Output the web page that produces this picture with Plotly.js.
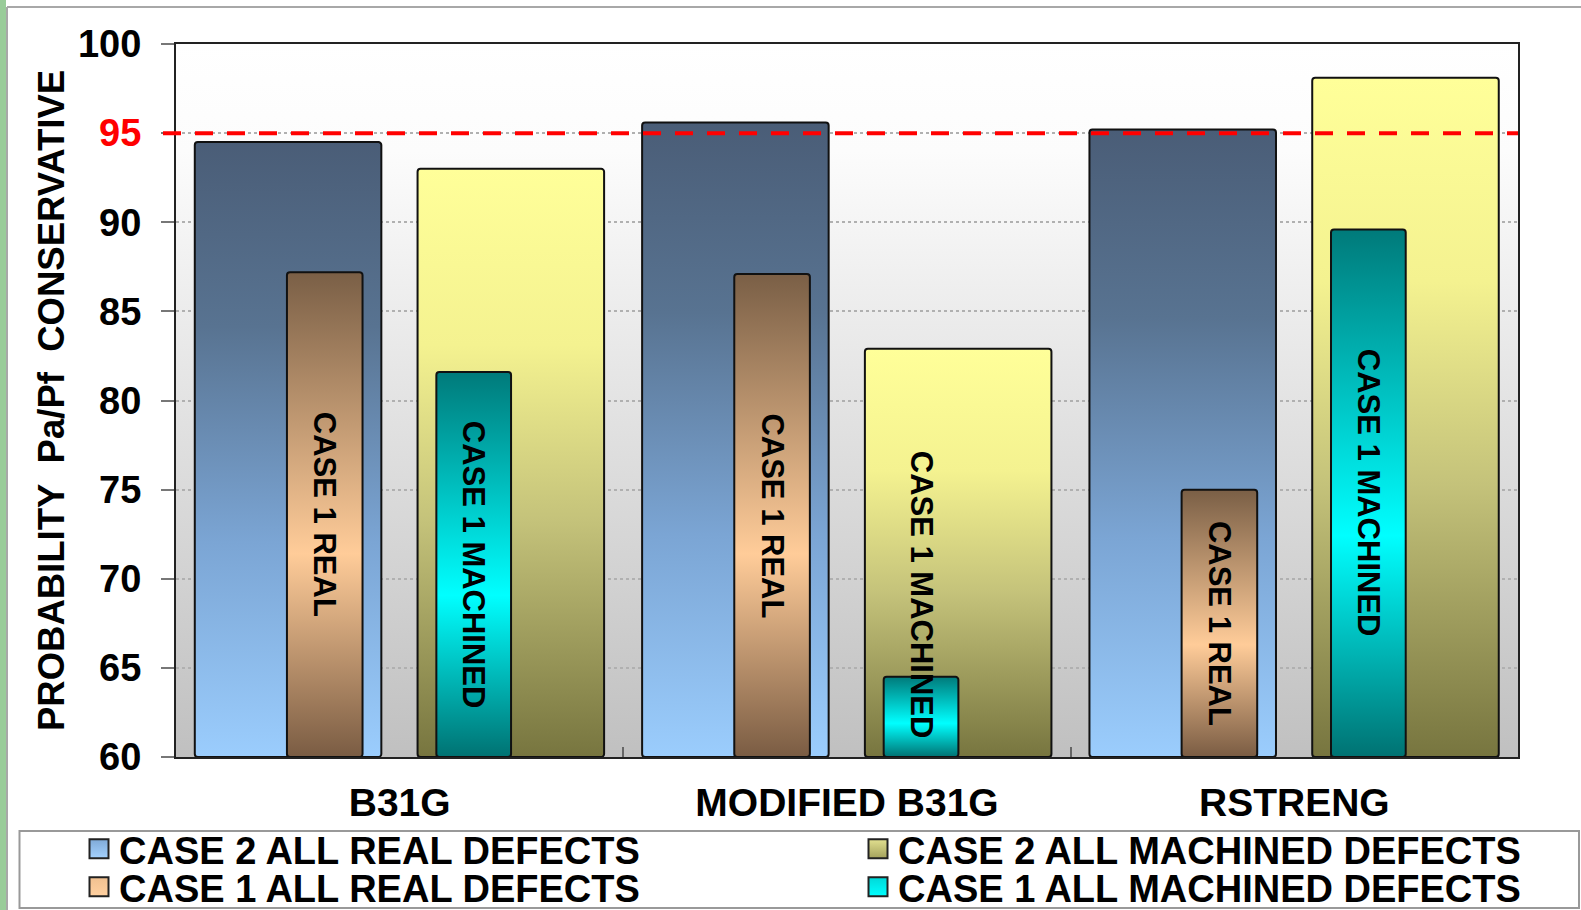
<!DOCTYPE html>
<html>
<head>
<meta charset="utf-8">
<script src="https://cdn.plot.ly/plotly-3.0.1.min.js"></script>
<style>
  html, body { margin: 0; padding: 0; background: #ffffff; }
  #chart { width: 1581px; height: 910px; }
</style>
</head>
<body>
<div id="chart"></div>
<script>
// Assessment methods along the x axis
const categories = ['B31G', 'MODIFIED B31G', 'RSTRENG'];

// Probability (%) that Pa/Pf is conservative, per method
const case2RealDefects     = [94.5, 95.6, 95.2];
const case2MachinedDefects = [93.0, 82.9, 98.1];
const case1RealDefects     = [87.2, 87.1, 75.0];
const case1MachinedDefects = [81.6, 64.5, 89.6];

const seriesNames = [
  'CASE 2 ALL REAL DEFECTS',
  'CASE 2 ALL MACHINED DEFECTS',
  'CASE 1 ALL REAL DEFECTS',
  'CASE 1 ALL MACHINED DEFECTS'
];
const barLabels = ['CASE 1 REAL', 'CASE 1 MACHINED'];

const yTickValues = [60, 65, 70, 75, 80, 85, 90, 95, 100];
const axisFloor = 60;
const axisCeiling = 100;
const targetLevel = 95;

// ---- page geometry (pixels) ----
const W = 1581, H = 910;
const M = { l: 176, r: 63, t: 44, b: 153, autoexpand: false };
const PW = W - M.l - M.r, PH = H - M.t - M.b;
const px = x => (x - M.l) / PW;      // page x -> paper x
const py = y => (H - M.b - y) / PH;  // page y -> paper y

const FONT = 'Liberation Sans, Arial, Helvetica, sans-serif';

// bar slot within each category: [offset, width] in category units
const slots = [
  [-0.458, 0.417],  // case 2 real
  [ 0.040, 0.417],  // case 2 machined
  [-0.252, 0.169],  // case 1 real
  [ 0.082, 0.167]   // case 1 machined
];
const seriesValues = [case2RealDefects, case2MachinedDefects, case1RealDefects, case1MachinedDefects];
const legendIds = ['legend', 'legend2', 'legend3', 'legend4'];

// bars rise from the bottom of the value axis
const traces = seriesValues.map((vals, i) => ({
  type: 'bar',
  name: seriesNames[i],
  x: categories,
  y: vals.map(v => v - axisFloor),
  base: axisFloor,
  customdata: vals,
  hovertemplate: '%{x}: %{customdata}<extra>' + seriesNames[i] + '</extra>',
  offset: slots[i][0],
  width: slots[i][1],
  legend: legendIds[i],
  marker: {
    color: ['#6f8fb5', '#c8c67c', '#d9a97d', '#00c8c8'][i],
    line: { color: '#111111', width: 2 },
    cornerradius: 3
  }
}));

// vertical labels written inside the case 1 bars; a label longer than its
// bar is lifted so that it still ends just above the axis
const annotations = [];
const labelHalfSpans = [6.2, 9.1]; // half of each label's length, in y units
[2, 3].forEach((s, k) => {
  seriesValues[s].forEach((v, ci) => {
    const mid = (axisFloor + v) / 2;
    annotations.push({
      x: ci + slots[s][0] + slots[s][1] / 2,
      y: Math.max(mid, axisFloor + labelHalfSpans[k]),
      xref: 'x', yref: 'y',
      text: barLabels[k],
      textangle: 90,
      showarrow: false,
      font: { family: FONT, size: 31, color: '#000000', weight: 700 }
    });
  });
});

// soft vertical fade behind the bars
const bgSvg = '<svg xmlns="http://www.w3.org/2000/svg" width="100" height="100" preserveAspectRatio="none">' +
  '<defs><linearGradient id="g" x1="0" y1="0" x2="0" y2="1">' +
  '<stop offset="0" stop-color="#ffffff"/><stop offset="0.15" stop-color="#fcfcfc"/><stop offset="1" stop-color="#c0c0c0"/>' +
  '</linearGradient></defs><rect width="100" height="100" fill="url(#g)"/></svg>';

const tickText = yTickValues.map(v => v === targetLevel
  ? '<span style="color:#ff0000">' + v + '</span>' : String(v));

// two rows by two columns of legend keys
const legendSpots = [[79, 849], [858, 849], [79, 887], [858, 887]];
const legendLayouts = {};
legendIds.forEach((id, i) => {
  legendLayouts[id] = {
    x: px(legendSpots[i][0]), y: py(legendSpots[i][1]),
    xanchor: 'left', yanchor: 'middle',
    orientation: 'h',
    bgcolor: 'rgba(0,0,0,0)',
    borderwidth: 0,
    font: { family: FONT, size: 38, color: '#000000', weight: 700 },
    itemclick: false,
    itemdoubleclick: false
  };
});

const layout = Object.assign({
  width: W, height: H,
  margin: M,
  paper_bgcolor: '#ffffff',
  plot_bgcolor: 'rgba(0,0,0,0)',
  barmode: 'overlay',
  showlegend: true,
  font: { family: FONT, color: '#000000' },
  xaxis: {
    type: 'category',
    range: [-0.5, 2.5],
    showgrid: false,
    showline: true, mirror: true, linecolor: '#222222', linewidth: 2,
    ticks: 'inside', tickson: 'boundaries', ticklen: 10, tickwidth: 2, tickcolor: '#666666',
    ticklabelstandoff: 10,
    tickfont: { family: FONT, size: 39, color: '#000000', weight: 700 },
    fixedrange: true
  },
  yaxis: {
    range: [axisFloor, axisCeiling],
    tickvals: yTickValues,
    ticktext: tickText,
    showgrid: true, gridcolor: '#b0b0b0', gridwidth: 1.5, griddash: 'dot',
    zeroline: false,
    showline: true, mirror: true, linecolor: '#222222', linewidth: 2,
    ticks: 'outside', ticklen: 13, tickwidth: 2, tickcolor: '#777777',
    ticklabelstandoff: 12,
    tickfont: { family: FONT, size: 38, color: '#000000', weight: 700 },
    title: {
      text: 'PROBABILITY\u00a0\u00a0Pa/Pf\u00a0\u00a0CONSERVATIVE',
      font: { family: FONT, size: 36.5, color: '#000000', weight: 700 },
      standoff: 2
    },
    fixedrange: true
  },
  images: [{
    source: 'data:image/svg+xml;charset=utf-8,' + encodeURIComponent(bgSvg),
    xref: 'paper', yref: 'paper', x: 0, y: 1, sizex: 1, sizey: 1,
    xanchor: 'left', yanchor: 'top', sizing: 'stretch', layer: 'below'
  }],
  shapes: [
    // target level
    { type: 'line', xref: 'paper', yref: 'y', x0: px(163), x1: 1, y0: targetLevel, y1: targetLevel,
      line: { color: '#ff0000', width: 4, dash: '18px,14px' }, layer: 'above' },
    // legend frame
    { type: 'rect', xref: 'paper', yref: 'paper', x0: px(19.5), x1: px(1579), y0: py(831), y1: py(908),
      line: { color: '#999999', width: 2 }, fillcolor: 'rgba(0,0,0,0)', layer: 'below' },
    // page frame and side strip
    { type: 'rect', xref: 'paper', yref: 'paper', x0: px(0), x1: px(6), y0: py(910), y1: py(0),
      line: { width: 0 }, fillcolor: '#99cc99', layer: 'below' },
    { type: 'line', xref: 'paper', yref: 'paper', x0: px(7), x1: px(7), y0: py(910), y1: py(7),
      line: { color: '#a8a8a8', width: 2 }, layer: 'below' },
    { type: 'line', xref: 'paper', yref: 'paper', x0: px(7), x1: px(1581), y0: py(7), y1: py(7),
      line: { color: '#a8a8a8', width: 2 }, layer: 'below' }
  ],
  annotations: annotations
}, legendLayouts);

// gradient fills for bars and legend keys
const barGradients = [
  [[0, '#4a5d77'], [0.3, '#587391'], [0.65, '#7ba5d4'], [1, '#9bcdfd']],
  [[0, '#ffff99'], [0.3, '#f4f290'], [0.6, '#c4c27a'], [1, '#77753f']],
  [[0, '#7a5f46'], [0.58, '#ffcc99'], [1, '#7a5c43']],
  [[0, '#007a7a'], [0.58, '#00ffff'], [1, '#007272']]
];
const keyGradients = [
  [[0, '#7fa9d6'], [1, '#a4d2ff']],
  [[0, '#e2e090'], [1, '#a4a25c']],
  [[0, '#f0c090'], [1, '#ffd0a0']],
  [[0, '#00d8d8'], [1, '#00ffff']]
];

function addGradient(defs, id, stops) {
  if (defs.querySelector('#' + id)) return;
  const NS = 'http://www.w3.org/2000/svg';
  const g = document.createElementNS(NS, 'linearGradient');
  g.setAttribute('id', id);
  g.setAttribute('x1', '0'); g.setAttribute('y1', '0');
  g.setAttribute('x2', '0'); g.setAttribute('y2', '1');
  stops.forEach(([o, c]) => {
    const s = document.createElementNS(NS, 'stop');
    s.setAttribute('offset', o);
    s.setAttribute('stop-color', c);
    g.appendChild(s);
  });
  defs.appendChild(g);
}

function paintGradients(gd) {
  const svg = gd.querySelector('svg.main-svg');
  if (!svg) return;
  let defs = svg.querySelector('defs');
  if (!defs) { defs = document.createElementNS('http://www.w3.org/2000/svg', 'defs'); svg.insertBefore(defs, svg.firstChild); }
  barGradients.forEach((st, i) => addGradient(defs, 'barfill' + i, st));
  keyGradients.forEach((st, i) => addGradient(defs, 'keyfill' + i, st));

  gd.querySelectorAll('.barlayer .trace').forEach((tr, i) => {
    tr.querySelectorAll('.point path').forEach(p => { p.style.fill = 'url(#barfill' + i + ')'; });
  });

  // one key per legend, in trace order
  legendIds.forEach((id, i) => {
    gd.querySelectorAll('g.' + id + ' path.legendbar, g.' + id + ' .legendpoints path').forEach(p => {
      p.setAttribute('d', 'M9.5,9.5H-9.5V-9.5H9.5Z');
      p.style.fill = 'url(#keyfill' + i + ')';
      p.style.stroke = '#222222';
      p.style.strokeWidth = '2px';
    });
  });
}

const gd = document.getElementById('chart');
Plotly.newPlot(gd, traces, layout, { displayModeBar: false, responsive: false })
  .then(() => {
    paintGradients(gd);
    gd.on('plotly_afterplot', () => paintGradients(gd));
    setTimeout(() => paintGradients(gd), 50);
  });
</script>
</body>
</html>
